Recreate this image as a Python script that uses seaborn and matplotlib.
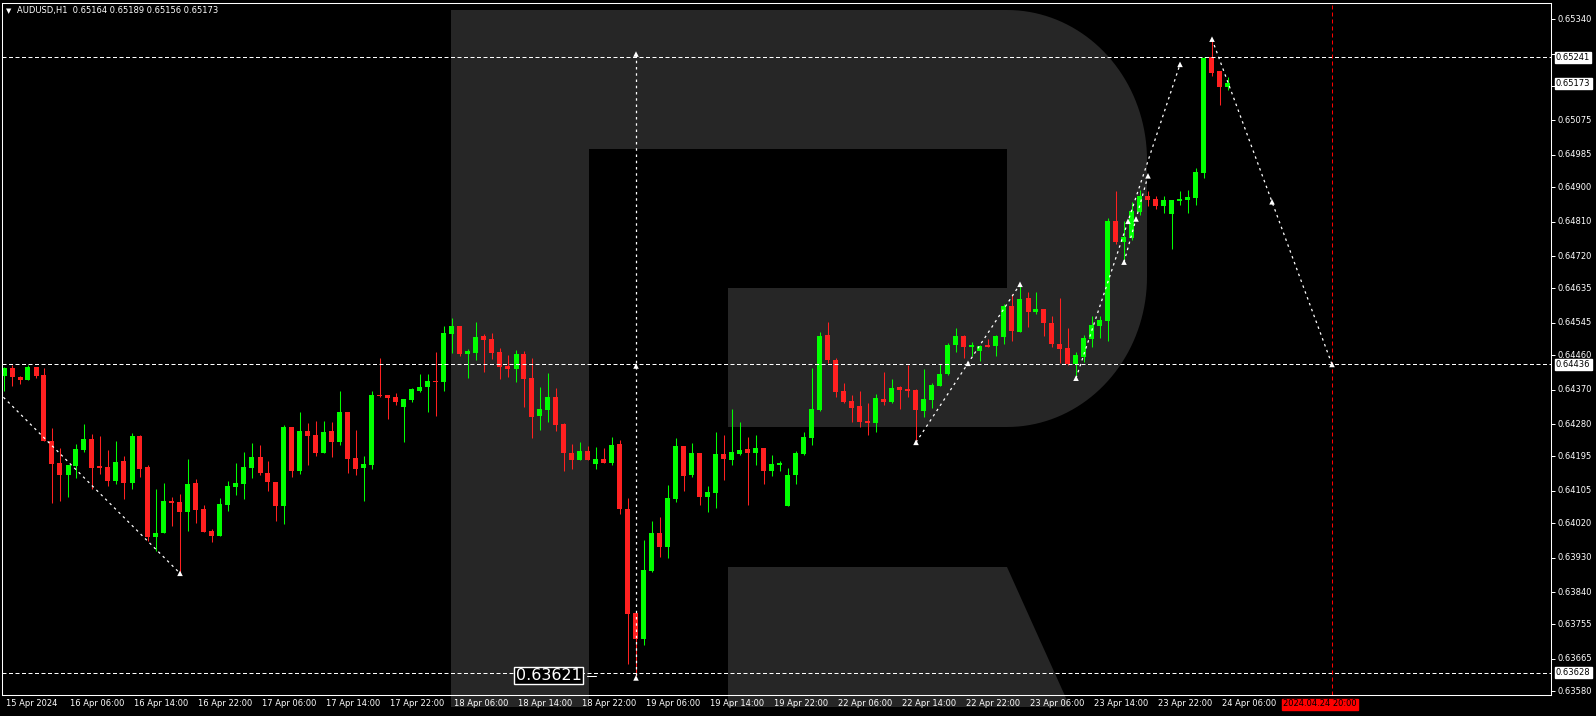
import matplotlib
matplotlib.use('Agg')
import matplotlib.pyplot as plt
from matplotlib import font_manager
from matplotlib.patches import Polygon
import numpy as np
import pandas as pd
import seaborn as sns

# AUDUSD H1 bars, first bar = 15 Apr 2024 22:00 (one entry per hour, weekend skipped)
opens = [0.64407, 0.64427, 0.64403, 0.64396, 0.64429, 0.64408, 0.64235, 0.64178, 0.64147, 0.64171,
         0.64213, 0.64241, 0.64167, 0.64167, 0.64132, 0.64183, 0.64126, 0.64249, 0.64167, 0.63985,
         0.63995, 0.64078, 0.64076, 0.64050, 0.64125, 0.64057, 0.64000, 0.63988, 0.64069, 0.64116,
         0.64124, 0.64166, 0.64194, 0.64152, 0.64128, 0.64066, 0.64272, 0.64158, 0.64262, 0.64251,
         0.64205, 0.64262, 0.64234, 0.64311, 0.64191, 0.64166, 0.64173, 0.64356, 0.64356, 0.64351,
         0.64325, 0.64343, 0.64366, 0.64377, 0.64393, 0.64391, 0.64517, 0.64537, 0.64464, 0.64467,
         0.64511, 0.64503, 0.64469, 0.64432, 0.64425, 0.64463, 0.64401, 0.64302, 0.64318, 0.64351,
         0.64281, 0.64204, 0.64187, 0.64209, 0.64176, 0.64189, 0.64179, 0.64228, 0.64057, 0.63785,
         0.63718, 0.63896, 0.63995, 0.63958, 0.64084, 0.64222, 0.64147, 0.64204, 0.64090, 0.64100,
         0.64202, 0.64187, 0.64202, 0.64215, 0.64204, 0.64217, 0.64158, 0.64174, 0.64064, 0.64146,
         0.64201, 0.64243, 0.64317, 0.64513, 0.64448, 0.64366, 0.64340, 0.64327, 0.64288, 0.64283,
         0.64346, 0.64338, 0.64377, 0.64372, 0.64369, 0.64314, 0.64343, 0.64380, 0.64411, 0.64487,
         0.64511, 0.64483, 0.64471, 0.64487, 0.64484, 0.64508, 0.64589, 0.64521, 0.64610, 0.64573,
         0.64581, 0.64545, 0.64490, 0.64479, 0.64437, 0.64456, 0.64504, 0.64537, 0.64551, 0.64812,
         0.64758, 0.64767, 0.64836, 0.64877, 0.64869, 0.64852, 0.64831, 0.64865, 0.64868, 0.64873,
         0.64938, 0.65241, 0.65205, 0.65164]
highs = [0.64430, 0.64434, 0.64407, 0.64435, 0.64429, 0.64427, 0.64270, 0.64216, 0.64173, 0.64228,
         0.64280, 0.64254, 0.64249, 0.64212, 0.64235, 0.64196, 0.64256, 0.64251, 0.64172, 0.64110,
         0.64125, 0.64089, 0.64097, 0.64188, 0.64136, 0.64068, 0.64005, 0.64086, 0.64131, 0.64178,
         0.64207, 0.64230, 0.64225, 0.64183, 0.64128, 0.64277, 0.64272, 0.64311, 0.64283, 0.64288,
         0.64288, 0.64285, 0.64366, 0.64311, 0.64264, 0.64196, 0.64366, 0.64453, 0.64356, 0.64361,
         0.64346, 0.64374, 0.64411, 0.64411, 0.64469, 0.64537, 0.64558, 0.64537, 0.64476, 0.64547,
         0.64517, 0.64518, 0.64479, 0.64461, 0.64474, 0.64471, 0.64453, 0.64377, 0.64414, 0.64374,
         0.64284, 0.64228, 0.64233, 0.64222, 0.64220, 0.64217, 0.64246, 0.64238, 0.64086, 0.63785,
         0.63976, 0.64026, 0.64036, 0.64120, 0.64244, 0.64222, 0.64230, 0.64204, 0.64118, 0.64259,
         0.64252, 0.64319, 0.64285, 0.64246, 0.64251, 0.64217, 0.64199, 0.64183, 0.64165, 0.64209,
         0.64259, 0.64427, 0.64521, 0.64547, 0.64453, 0.64387, 0.64356, 0.64366, 0.64335, 0.64359,
         0.64416, 0.64398, 0.64380, 0.64434, 0.64372, 0.64424, 0.64387, 0.64437, 0.64492, 0.64532,
         0.64513, 0.64495, 0.64487, 0.64503, 0.64513, 0.64594, 0.64621, 0.64642, 0.64626, 0.64626,
         0.64581, 0.64563, 0.64610, 0.64531, 0.64469, 0.64513, 0.64563, 0.64563, 0.64820, 0.64890,
         0.64812, 0.64862, 0.64893, 0.64890, 0.64877, 0.64877, 0.64867, 0.64890, 0.64893, 0.64951,
         0.65241, 0.65286, 0.65205, 0.65189]
lows = [0.64367, 0.64380, 0.64386, 0.64396, 0.64401, 0.64236, 0.64074, 0.64079, 0.64090, 0.64138,
        0.64208, 0.64111, 0.64150, 0.64118, 0.64124, 0.64084, 0.64111, 0.64142, 0.63974, 0.63947,
        0.63995, 0.64014, 0.63889, 0.64001, 0.64022, 0.63998, 0.63972, 0.63988, 0.64053, 0.64095,
        0.64084, 0.64139, 0.64147, 0.64105, 0.64027, 0.64019, 0.64142, 0.64150, 0.64173, 0.64197,
        0.64205, 0.64194, 0.64226, 0.64153, 0.64147, 0.64079, 0.64163, 0.64350, 0.64294, 0.64331,
        0.64234, 0.64339, 0.64364, 0.64312, 0.64301, 0.64366, 0.64467, 0.64459, 0.64401, 0.64448,
        0.64415, 0.64451, 0.64398, 0.64404, 0.64391, 0.64325, 0.64244, 0.64265, 0.64286, 0.64263,
        0.64158, 0.64163, 0.64187, 0.64187, 0.64163, 0.64179, 0.64174, 0.64045, 0.63652, 0.63621,
        0.63702, 0.63893, 0.63932, 0.63930, 0.64077, 0.64105, 0.64140, 0.64069, 0.64050, 0.64061,
        0.64134, 0.64174, 0.64200, 0.64069, 0.64174, 0.64124, 0.64144, 0.64158, 0.64064, 0.64124,
        0.64199, 0.64225, 0.64314, 0.64439, 0.64351, 0.64335, 0.64285, 0.64272, 0.64251, 0.64259,
        0.64330, 0.64335, 0.64319, 0.64351, 0.64236, 0.64298, 0.64322, 0.64380, 0.64408, 0.64469,
        0.64453, 0.64458, 0.64445, 0.64482, 0.64458, 0.64490, 0.64497, 0.64521, 0.64534, 0.64568,
        0.64511, 0.64482, 0.64440, 0.64435, 0.64404, 0.64443, 0.64483, 0.64506, 0.64498, 0.64751,
        0.64705, 0.64763, 0.64827, 0.64852, 0.64843, 0.64834, 0.64739, 0.64854, 0.64834, 0.64854,
        0.64924, 0.65192, 0.65116, 0.65156]
closes = [0.64427, 0.64404, 0.64396, 0.64429, 0.64407, 0.64236, 0.64176, 0.64147, 0.64173, 0.64215,
          0.64241, 0.64166, 0.64166, 0.64132, 0.64180, 0.64126, 0.64249, 0.64163, 0.63985, 0.63995,
          0.64078, 0.64073, 0.64050, 0.64123, 0.64056, 0.63998, 0.63988, 0.64070, 0.64118, 0.64125,
          0.64167, 0.64194, 0.64151, 0.64129, 0.64066, 0.64272, 0.64158, 0.64262, 0.64249, 0.64205,
          0.64259, 0.64234, 0.64311, 0.64189, 0.64163, 0.64175, 0.64356, 0.64354, 0.64349, 0.64338,
          0.64346, 0.64372, 0.64377, 0.64393, 0.64391, 0.64518, 0.64537, 0.64464, 0.64471, 0.64508,
          0.64501, 0.64467, 0.64430, 0.64425, 0.64463, 0.64399, 0.64299, 0.64319, 0.64351, 0.64278,
          0.64205, 0.64187, 0.64209, 0.64187, 0.64189, 0.64179, 0.64225, 0.64058, 0.63783, 0.63718,
          0.63898, 0.63995, 0.63958, 0.64086, 0.64222, 0.64144, 0.64204, 0.64090, 0.64102, 0.64202,
          0.64189, 0.64207, 0.64212, 0.64205, 0.64217, 0.64158, 0.64175, 0.64175, 0.64146, 0.64204,
          0.64246, 0.64319, 0.64511, 0.64448, 0.64364, 0.64338, 0.64322, 0.64285, 0.64283, 0.64348,
          0.64338, 0.64374, 0.64369, 0.64366, 0.64317, 0.64346, 0.64382, 0.64411, 0.64487, 0.64511,
          0.64482, 0.64484, 0.64484, 0.64482, 0.64511, 0.64589, 0.64524, 0.64607, 0.64573, 0.64581,
          0.64545, 0.64490, 0.64477, 0.64437, 0.64461, 0.64505, 0.64539, 0.64552, 0.64812, 0.64758,
          0.64770, 0.64838, 0.64877, 0.64867, 0.64852, 0.64867, 0.64867, 0.64869, 0.64875, 0.64940,
          0.65239, 0.65199, 0.65163, 0.65173]

# horizontal levels drawn on the chart
levels = [0.65241, 0.64436, 0.63628]
# forecast segments: start bar/price -> end bar/price
fc_bar0 = [-24, 79, 114, 134, 140, 151]
fc_price0 = [0.64850, 0.65249, 0.64232, 0.64400, 0.64704, 0.65288]
fc_bar1 = [22, 79, 127, 147, 143, 166]
fc_price1 = [0.63889, 0.63615, 0.64646, 0.65222, 0.64930, 0.64436]
low_label = 0.63621
forecast_bar = 166
forecast_time = '2024.04.24 20:00'

time_ticks = list(range(0, 153, 8))
time_labels = ['15 Apr 2024', '16 Apr 06:00', '16 Apr 14:00', '16 Apr 22:00', '17 Apr 06:00',
               '17 Apr 14:00', '17 Apr 22:00', '18 Apr 06:00', '18 Apr 14:00', '18 Apr 22:00',
               '19 Apr 06:00', '19 Apr 14:00', '19 Apr 22:00', '22 Apr 06:00', '22 Apr 14:00',
               '22 Apr 22:00', '23 Apr 06:00', '23 Apr 14:00', '23 Apr 22:00', '24 Apr 06:00']
# 0.65250 sits under the 0.65241 level box, so only its tick mark shows
price_labels = ['0.65340', '', '0.65165', '0.65075', '0.64985', '0.64900', '0.64810',
                '0.64720', '0.64635', '0.64545', '0.64460', '0.64370', '0.64280', '0.64195',
                '0.64105', '0.64020', '0.63930', '0.63840', '0.63755', '0.63665', '0.63580']
price_ticks = [0.65340, 0.65250, 0.65165, 0.65075, 0.64985, 0.64900, 0.64810,
               0.64720, 0.64635, 0.64545, 0.64460, 0.64370, 0.64280, 0.64195,
               0.64105, 0.64020, 0.63930, 0.63840, 0.63755, 0.63665, 0.63580]

sns.set_theme(style='dark', rc={'axes.facecolor': 'black', 'figure.facecolor': 'black',
                                'savefig.facecolor': 'black'})
names = {f.name for f in font_manager.fontManager.ttflist}
if 'Liberation Sans Narrow' in names:
    plt.rcParams['font.family'] = ['Liberation Sans Narrow', 'DejaVu Sans']
    FS, BIG = 7.2, 16
else:
    plt.rcParams['font.family'] = ['DejaVu Sans']
    FS, BIG = 6.0, 11.5

W, H = 1596, 716
GREEN, RED = '#00ff00', '#ff2020'
fig = plt.figure(figsize=(W / 100, H / 100), dpi=100, facecolor='black')

# RoboForex "R" watermark, drawn in pixel space behind the chart
bg = fig.add_axes([0, 0, 1, 1], zorder=0)
bg.set_xlim(0, W)
bg.set_ylim(H, 0)
bg.axis('off')
t = np.linspace(0, np.pi / 2, 40)
top_arc = list(zip(1007 + 140 * np.sin(t), 160 - 150 * np.cos(t)))
bot_arc = list(zip(1007 + 140 * np.cos(t), 277 + 150 * np.sin(t)))
outline = [(451, 10)] + top_arc + bot_arc + [(728, 427), (728, 288), (1007, 288), (1007, 149),
                                             (589, 149), (589, 707), (451, 707)]
bg.add_patch(Polygon(outline, closed=True, fc='#262626', ec='none'))
bg.add_patch(Polygon([(728, 567), (1007, 567), (1070, 707), (728, 707)], closed=True,
                     fc='#262626', ec='none'))

ax = fig.add_axes([2 / W, (H - 695) / H, 1549 / W, (695 - 2.7) / H], zorder=1)
ax.set_facecolor('none')

# candles
o, h, l, c = map(np.array, (opens, highs, lows, closes))
bars = np.arange(len(o))
col = np.where(c >= o, GREEN, RED)
ax.vlines(bars, l, h, colors=col, lw=0.75, zorder=3)
ax.bar(bars, np.maximum(np.abs(c - o), 0.00003), bottom=np.minimum(o, c), width=0.625,
       color=col, linewidth=0, zorder=4)

for lvl in levels:
    ax.axhline(lvl, color='white', lw=0.72, dashes=(4, 2.5), zorder=5)
ax.axvline(forecast_bar, color='#ff0000', lw=0.72, dashes=(4, 3), zorder=5)

# forecast path
pts = []
for b0, p0, b1, p1 in zip(fc_bar0, fc_price0, fc_bar1, fc_price1):
    seg = pd.DataFrame({'bar': [b0, b1], 'price': [p0, p1]})
    sns.lineplot(data=seg, x='bar', y='price', ax=ax, color='white', lw=0.9, sort=False,
                 estimator=None, zorder=6)
    ax.lines[-1].set_dashes((2, 3))
    pts += [(b0, p0), ((b0 + b1) / 2, (p0 + p1) / 2), (b1, p1)]
pts = pd.DataFrame(pts, columns=['bar', 'price'])
sns.scatterplot(data=pts, x='bar', y='price', ax=ax, marker='^', s=16, color='white',
                edgecolor='none', zorder=7)

ax.set_xlim(-0.25, 193.375)
ax.set_ylim(0.635703, 0.653835)
ax.set_xlabel('')
ax.set_ylabel('')
ax.grid(False)
for s in ax.spines.values():
    s.set_color('white')
    s.set_linewidth(0.75)
    s.set_zorder(8)

# axes ticks and labels
ax.yaxis.tick_right()
ax.set_yticks(price_ticks)
ax.set_yticklabels([])
ax.set_xticks(time_ticks)
ax.set_xticklabels([])
ax.tick_params(axis='both', length=3, width=0.72, color='white', direction='out')
for v, s in zip(price_ticks, price_labels):
    if s:
        ax.annotate(s, xy=(1, v), xycoords=('axes fraction', 'data'), xytext=(6, 0),
                    textcoords='offset pixels', ha='left', va='center', color='white',
                    fontsize=FS, annotation_clip=False)
for b, s in zip(time_ticks, time_labels):
    ax.annotate(s, xy=(b, 0), xycoords=('data', 'axes fraction'), xytext=(2, -9),
                textcoords='offset pixels', ha='left', va='center', color='white',
                fontsize=FS, annotation_clip=False)

for v in [levels[0], closes[-1], levels[1], levels[2]]:
    ax.annotate(f'{v:.5f}', xy=(1, v), xycoords=('axes fraction', 'data'), xytext=(5, 0),
                textcoords='offset pixels', ha='left', va='center', color='black',
                fontsize=FS, annotation_clip=False, zorder=10,
                bbox=dict(boxstyle='square,pad=0.12', fc='white', ec='white'))
ax.annotate(forecast_time, xy=(forecast_bar, 0), xycoords=('data', 'axes fraction'),
            xytext=(-12, -9), textcoords='offset pixels', ha='center', va='center',
            color='black', fontsize=FS, annotation_clip=False, zorder=10,
            bbox=dict(boxstyle='square,pad=0.12', fc='#ff0000', ec='#ff0000'))

# price label at the low
ax.text(68.06, low_label, f'{low_label:.5f}', ha='center', va='center', color='white',
        fontsize=BIG, zorder=9,
        bbox=dict(boxstyle='square,pad=0.08', fc='black', ec='white', lw=1))
ax.plot([72.9, 74.0], [low_label, low_label], color='white', lw=0.75, zorder=9)

fig.text(8.5 / W, 1 - 11 / H, '\u25bc', color='white', fontsize=5, family='DejaVu Sans',
         va='center', ha='center')
fig.text(17 / W, 1 - 10.7 / H,
         f'AUDUSD,H1  {opens[-1]:.5f} {highs[-1]:.5f} {lows[-1]:.5f} {closes[-1]:.5f}',
         color='white', fontsize=FS, va='center', ha='left')

fig.savefig('out.png', dpi=100, facecolor='black')
